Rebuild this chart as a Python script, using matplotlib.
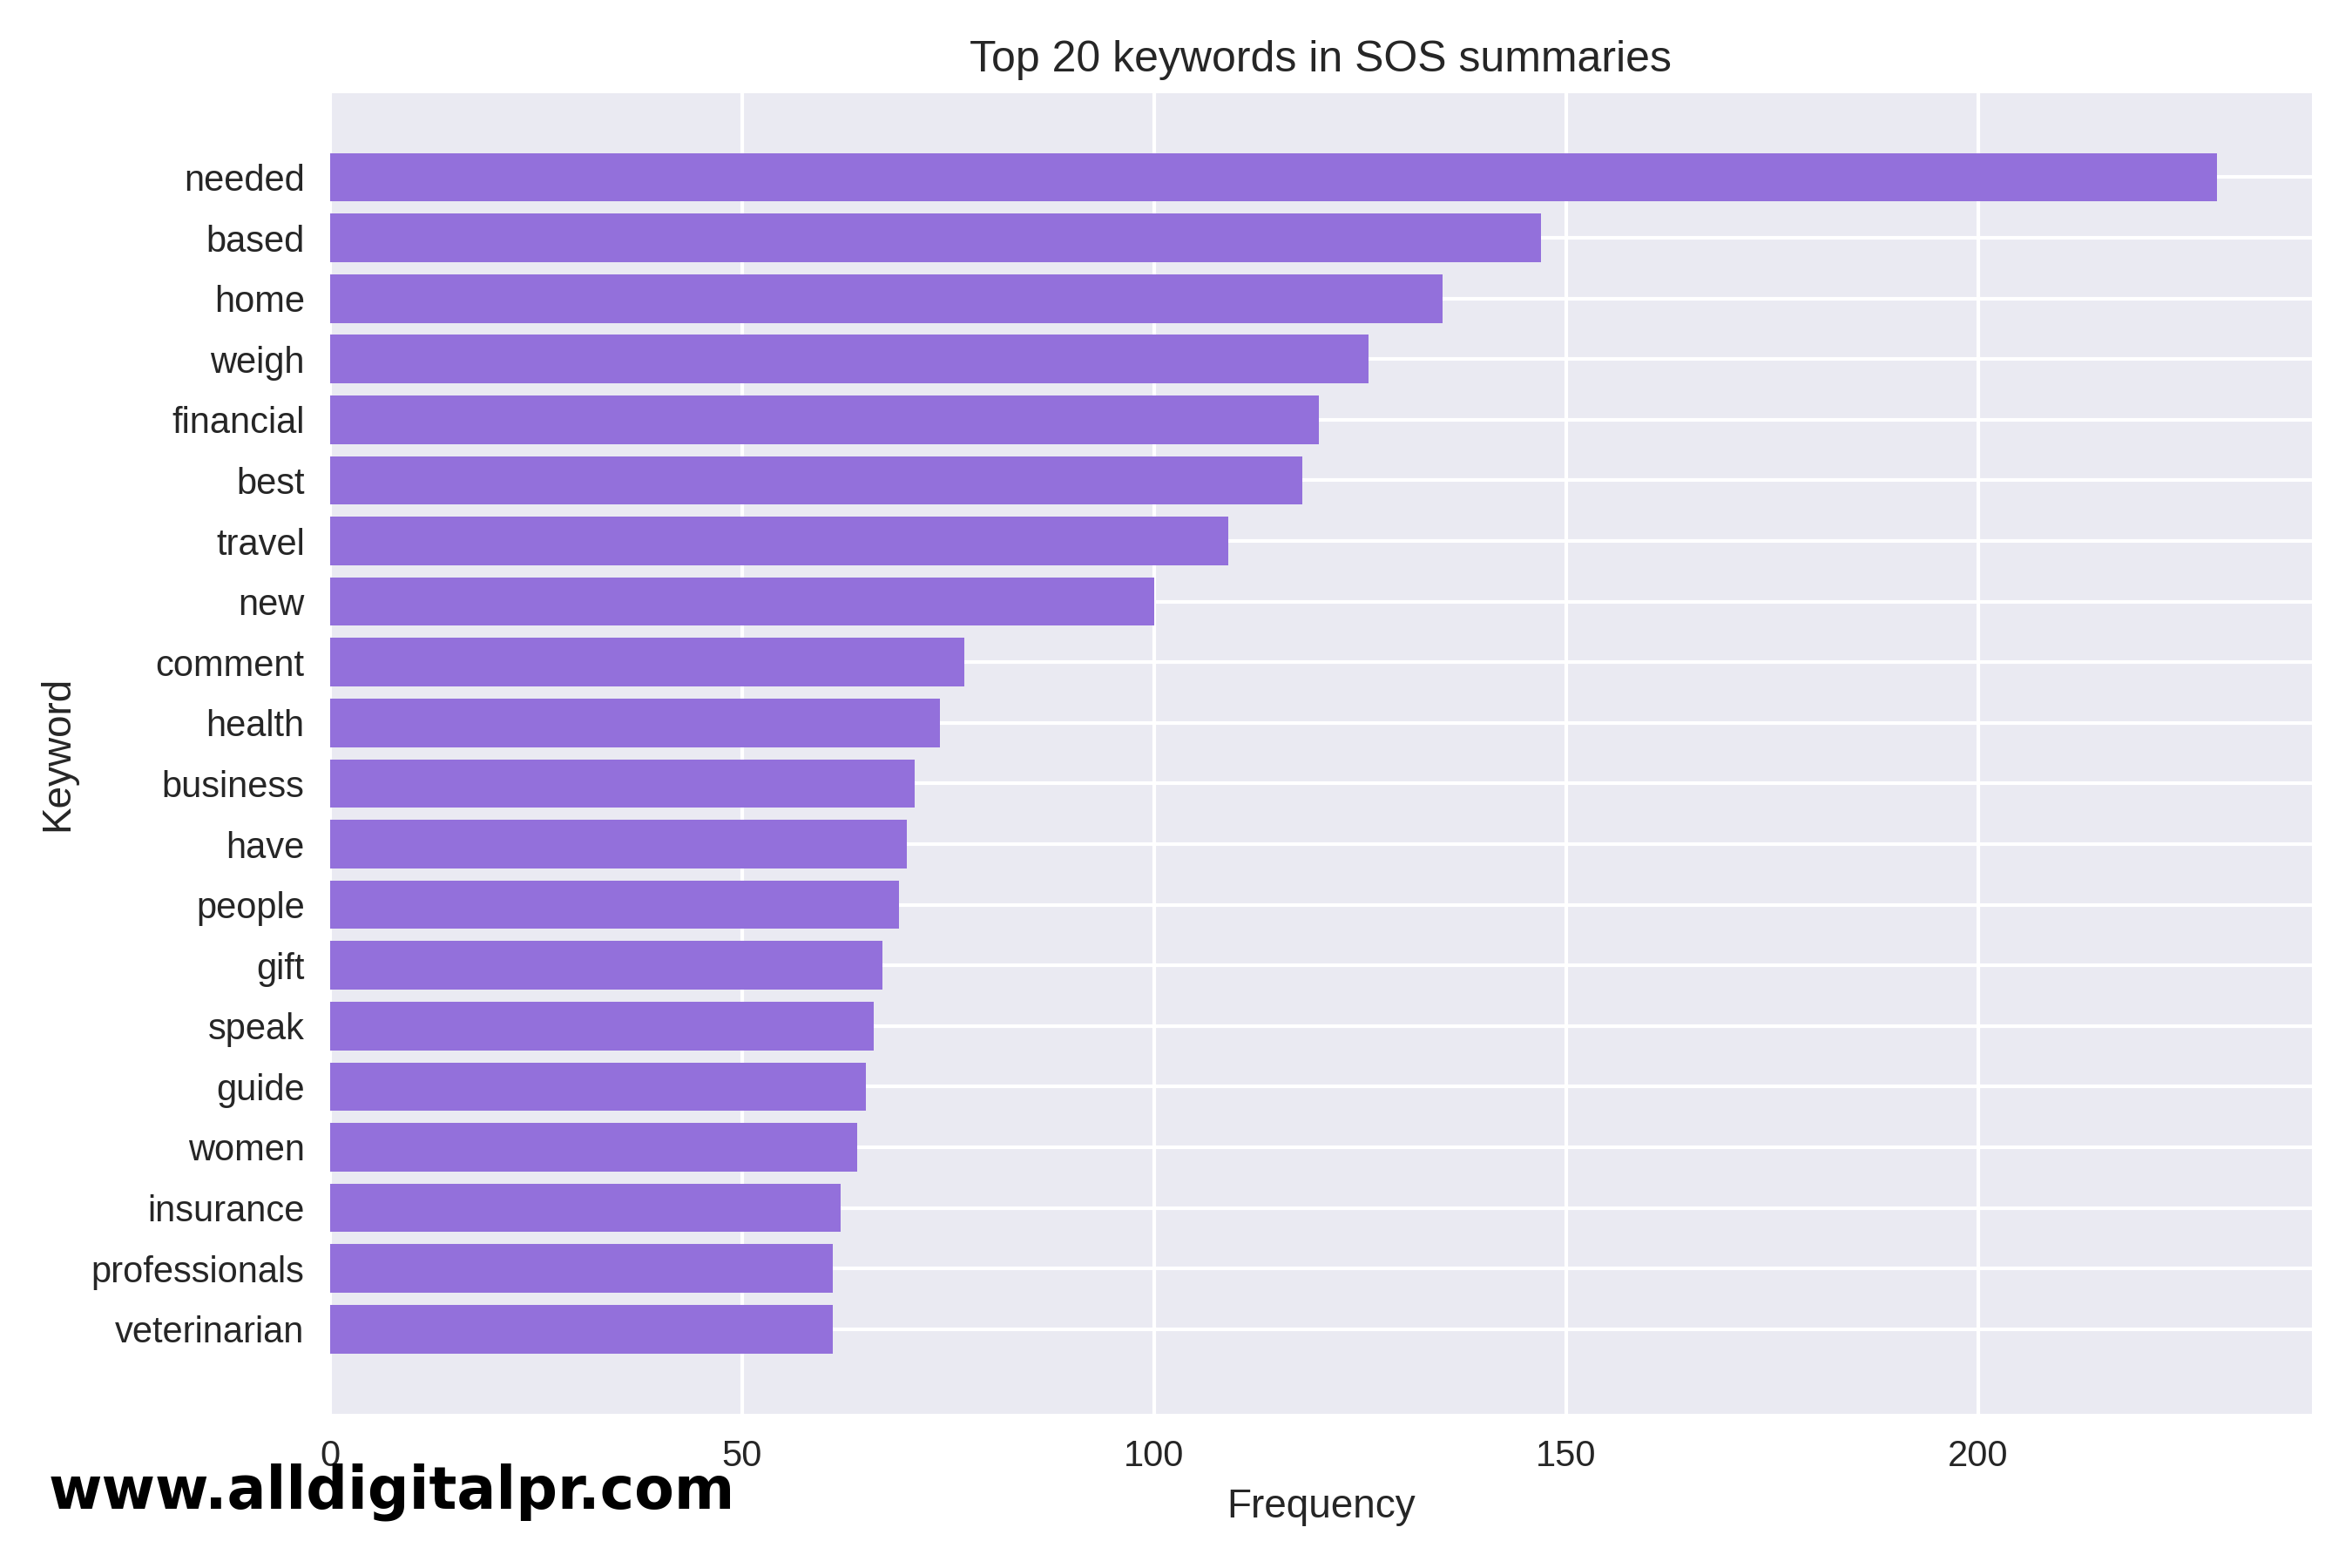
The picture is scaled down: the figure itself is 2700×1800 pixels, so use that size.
import matplotlib
matplotlib.use("Agg")
import matplotlib.pyplot as plt

# Data
keywords = ["needed", "based", "home", "weigh", "financial", "best", "travel",
            "new", "comment", "health", "business", "have", "people", "gift",
            "speak", "guide", "women", "insurance", "professionals", "veterinarian"]
frequency = [229, 147, 135, 126, 120, 118, 109, 100, 77, 74,
             71, 70, 69, 67, 66, 65, 64, 62, 61, 61]

plt.style.use("seaborn-v0_8")
plt.rcParams['font.family'] = ['Liberation Sans', 'DejaVu Sans']

fig, ax = plt.subplots(figsize=(9, 6), dpi=300)

# plot largest at top
ax.barh(keywords[::-1], frequency[::-1], color='mediumpurple')
ax.set_title('Top 20 keywords in SOS summaries')
ax.set_xlabel('Frequency')
ax.set_ylabel('Keyword')

fig.subplots_adjust(left=0.1403, right=0.9828, top=0.9407, bottom=0.0986)

# watermark
fig.text(0.0205, 0.038, 'www.alldigitalpr.com', fontsize=16, fontweight='bold',
         family='DejaVu Sans', color='black', va='baseline', ha='left')

fig.savefig('out.png', dpi=300)
